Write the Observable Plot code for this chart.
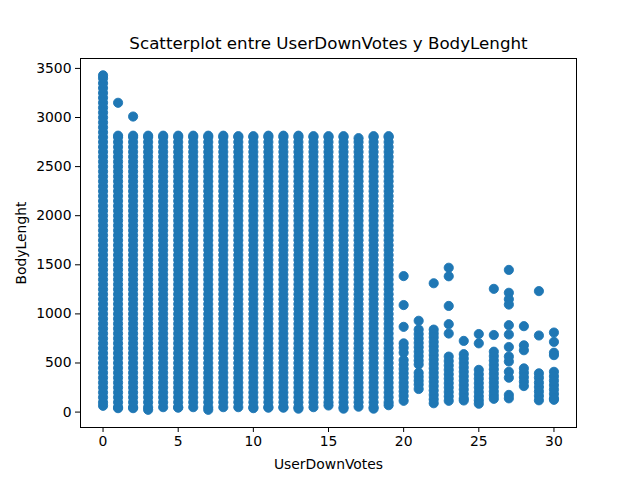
<!DOCTYPE html>
<html><head><meta charset="utf-8">
<script src="https://cdn.jsdelivr.net/npm/d3@7"></script>
<script src="https://cdn.jsdelivr.net/npm/@observablehq/plot@0.6"></script>
<style>body{margin:0;background:#fff} svg{display:block}</style>
</head><body><div id="chart"></div>
<script>
const titleText = "Scatterplot entre UserDownVotes y BodyLenght";
const xLabel = "UserDownVotes";
const yLabel = "BodyLenght";
const xTicks = [0, 5, 10, 15, 20, 25, 30];
const yTicks = [0, 500, 1000, 1500, 2000, 2500, 3000, 3500];

// Dense columns (UserDownVotes 0..19): observed lowest and highest BodyLenght
const denseVotes = [0, 1, 2, 3, 4, 5, 6, 7, 8, 9, 10, 11, 12, 13, 14, 15, 16, 17, 18, 19];
const denseBottom = [64, 40, 40, 23, 50, 45, 50, 23, 50, 50, 40, 45, 45, 35, 50, 67, 35, 55, 35, 70];
const denseTop = [3430, 2815, 2815, 2815, 2815, 2815, 2815, 2815, 2815, 2810, 2810, 2815, 2815, 2815, 2810, 2810, 2810, 2790, 2810, 2810];
// BodyLenght values that fill the solid columns between bottom and top
const solidLevels = [50, 100, 150, 200, 250, 300, 350, 400, 450, 500, 550, 600, 650, 700, 750, 800, 850, 900, 950, 1000,
  1050, 1100, 1150, 1200, 1250, 1300, 1350, 1400, 1450, 1500, 1550, 1600, 1650, 1700, 1750, 1800, 1850, 1900, 1950, 2000,
  2050, 2100, 2150, 2200, 2250, 2300, 2350, 2400, 2450, 2500, 2550, 2600, 2650, 2700, 2750, 2800, 2850, 2900, 2950, 3000,
  3050, 3100, 3150, 3200, 3250, 3300, 3350, 3400];
const outlierVotes = [1, 2];
const outlierLengths = [3150, 3010];

// Sparse columns (UserDownVotes 20..30)
const sparseVotes = [20, 21, 22, 23, 24, 25, 26, 27, 28, 29, 30];
const sparseLengths = [
  [1385, 1090, 868, 700, 655, 605, 530, 485, 440, 395, 350, 300, 255, 210, 165, 115],
  [930, 840, 795, 750, 705, 660, 615, 570, 525, 485, 400, 360, 320, 280, 235],
  [1312, 840, 800, 760, 715, 670, 625, 580, 535, 490, 445, 400, 355, 310, 265, 220, 175, 130, 90],
  [1470, 1383, 1081, 895, 800, 565, 520, 475, 430, 385, 340, 295, 250, 205, 160, 115],
  [725, 590, 545, 500, 455, 410, 365, 320, 275, 230, 185, 140, 118],
  [795, 700, 430, 385, 340, 295, 250, 205, 160, 120, 85],
  [1255, 785, 615, 570, 525, 480, 435, 390, 345, 300, 255, 210, 170, 135],
  [1448, 1215, 1150, 1095, 885, 790, 663, 565, 515, 410, 350, 175, 140],
  [875, 680, 630, 445, 400, 355, 310, 265],
  [1232, 780, 395, 350, 300, 255, 210, 165, 120],
  [810, 715, 605, 580, 410, 365, 320, 275, 230, 185, 140, 125]
];

const points = [];
denseVotes.forEach((v, i) => {
  points.push({votes: v, len: denseBottom[i]});
  solidLevels.filter(l => l > denseBottom[i] && l < denseTop[i]).forEach(l => points.push({votes: v, len: l}));
  points.push({votes: v, len: denseTop[i]});
});
outlierVotes.forEach((v, i) => points.push({votes: v, len: outlierLengths[i]}));
sparseVotes.forEach((v, i) => sparseLengths[i].forEach(l => points.push({votes: v, len: l})));

const chart = Plot.plot({
  width: 640, height: 480,
  marginLeft: 80, marginRight: 64, marginTop: 58, marginBottom: 53,
  style: {fontFamily: "DejaVu Sans", fontSize: "13.9px", background: "white", color: "black"},
  x: {domain: [-1.5, 31.5]},
  y: {domain: [-157, 3601]},
  marks: [
    Plot.dot(points, {x: "votes", y: "len", r: 4.6, fill: "#1f77b4", stroke: "#1f77b4", strokeWidth: 0.9}),
    Plot.frame({stroke: "black", strokeWidth: 1}),
    Plot.axisX({ticks: xTicks, tickSize: 5, tickPadding: 4, label: xLabel, labelAnchor: "center", labelArrow: "none", labelOffset: 41}),
    Plot.axisY({ticks: yTicks, tickSize: 5, tickPadding: 4, tickFormat: d => String(d), label: yLabel, labelAnchor: "center", labelArrow: "none", labelOffset: 64}),
    Plot.text([titleText], {frameAnchor: "top", dy: -10, lineAnchor: "bottom", fontSize: 16.7})
  ]
});
document.getElementById("chart").appendChild(chart);
</script>
</body></html>
